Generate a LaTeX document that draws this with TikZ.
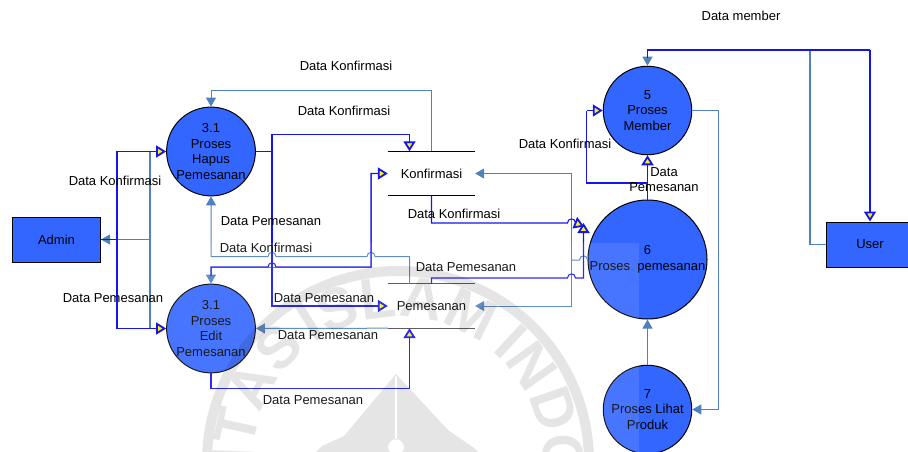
\documentclass[tikz,border=0pt]{standalone}
\usepackage{fontspec}
\setmainfont{Liberation Sans}
\usepackage{xcolor}
\usepackage{tikz}
\usetikzlibrary{positioning, arrows.meta, decorations.text}

\definecolor{fillblue}{HTML}{3366FF}
\definecolor{darkflow}{HTML}{1414F0}
\definecolor{lightflow}{HTML}{4F81BD}

\newcommand{\hopto}[3]{-- (#1,#3) .. controls (#1,#3-5.5) and (#2,#3-5.5) .. (#2,#3)}

\tikzset{
  proc/.style={circle, draw=black, line width=1, fill=fillblue, inner sep=0, minimum size=88.5pt, align=center, font=\fontsize{13}{15.4}\selectfont},
  ext/.style={rectangle, draw=black, line width=1, fill=fillblue, inner sep=0, minimum width=88pt, minimum height=45pt, font=\fontsize{13}{15}\selectfont},
  store/.style={rectangle, inner sep=0, minimum width=87pt, minimum height=44pt, font=\fontsize{13}{15}\selectfont},
  lbl/.style={inner sep=0, align=center, font=\fontsize{13}{15}\selectfont},
  dflow/.style={draw=darkflow, line width=1.05, -{Triangle[length=10pt, width=12pt, fill=yellow, line width=1.8pt]}},
  dline/.style={draw=darkflow, line width=1.05},
  lflow/.style={draw=lightflow, line width=1, -{Triangle[length=9pt, width=10pt, fill=lightflow]}},
  lline/.style={draw=lightflow, line width=1},
  wmtext/.style={decorate, decoration={text along path, text align=center, text={|\fontsize{58}{58}\selectfont\bfseries|#1}}},
}

\begin{document}
\begin{tikzpicture}[x=1pt, y=-1pt, on grid]
\useasboundingbox (0,0) rectangle (908,452);

% nodes %
\node[proc] (hapus) at (211,151.5) {3.1\\Proses\\Hapus\\Pemesanan};
\node[proc, below = 177pt of hapus] (edit) {3.1\\Proses\\Edit\\Pemesanan};
\node[proc] (member) at (647.5,110.5) {5\\Proses\\Member};
\node[proc, minimum size=119pt, below = 149pt of member] (pesan) {6\\Proses\ \ pemesanan};
\node[proc, below = 150pt of pesan] (produk) {7\\Proses Lihat\\Produk};
\node[ext] (admin) at (56.5,239.5) {Admin};
\node[ext] (user) at (870,244.5) {User};
\node[store] (konf) at (431.5,173.5) {Konfirmasi};
\node[store, below = 132.5pt of konf] (pem) {Pemesanan};

% store lines %
\draw[black, line width=0.9] (konf.north west) -- (konf.north east);
\draw[black, line width=0.9] (konf.south west) -- (konf.south east);
\draw[black!70, line width=0.9] (pem.north west) -- (pem.north east);
\draw[black!70, line width=0.9] (pem.south west) -- (pem.south east);

% edges %

%light%
\draw[lline, line width=1.6] (hapus.west) -- (150,151.5) -- (150,328.5) -- (edit.west);
\draw[lflow] (150,239.5) -- (admin.east);
\draw[lflow] (konf.north) -- (431.5,91) -- (211,91) -- (hapus.north);
\draw[lflow] ([xshift=-22pt]pem.north) -- (409.5,256.5) \hopto{375}{367}{256.5} \hopto{276}{268}{256.5} -- (211,256.5) -- (hapus.south);
\draw[lflow] (pem.south west) -- (edit.east);
\draw[lflow] (371,173.5) -- (371,267) -- (211,267) -- (edit.north);
\draw[lflow] (571.5,260) -- (571.5,173.5) -- (konf.east);
\draw[lflow] (571.5,260) -- (571.5,306) -- (pem.east);
\draw[lline] (571.5,260) \hopto{579.5}{587.5}{260} -- (pesan.west);
\draw[lflow] (produk.north) -- (pesan.south);
\draw[lline, line width=1.6] (pesan.north) -- (member.south);
\draw[lflow] (member.east) -- (718.5,110.5) -- (718.5,409.5) -- (produk.east);
\draw[lline, line width=1.6] (user.west) -- (810,244.5) -- (810,50);
\draw[lflow] (870,50) -- (647.5,50) -- (member.north);

%dark%
\draw[dflow] (admin.east) -- (117,239.5) -- (117,151.5) -- (hapus.west);
\draw[dflow] (117,239.5) -- (117,328.5) -- (edit.west);
\draw[dflow] (hapus.east) -- (272,151.5) -- (272,134.5) -- (409.5,134.5) -- ([xshift=-22pt]konf.north);
\draw[dflow] (272,151.5) -- (272,306) -- (pem.west);
\draw[dflow] (211,276) -- (211,267) \hopto{268}{276}{267} -- (371,267) -- (371,173.5) -- (konf.west);
\draw[dflow] (edit.south) -- (211,388.5) -- (409.5,388.5) -- ([xshift=-22pt]pem.south);
\draw[dflow] (konf.south) -- (431.5,223) \hopto{567.5}{575.5}{223} -- (584,226.5);
\draw[dflow] (pem.north) -- (431.5,278) \hopto{567.5}{575.5}{278} -- (583.5,278) -- (583.5,223);
\draw[dflow] (647.5,183) -- (member.south);
\draw[dline] (647.5,200) -- (647.5,183) -- (586.5,183) -- (586.5,110.5);
\draw[dflow] (586.5,110.5) -- (member.west);
\draw[dline] (647.5,58) -- (647.5,50) -- (870,50);
\draw[dflow] (870,50) -- (user.north);

% labels %
\node[lbl] (l1) at (741,15.5) {Data member};
\node[lbl] (l2) at (346,66) {Data Konfirmasi};
\node[lbl] (l3) at (344,110.5) {Data Konfirmasi};
\node[lbl] (l4) at (115,180.5) {Data Konfirmasi};
\node[lbl] (l5) at (565,143.5) {Data Konfirmasi};
\node[lbl] (l6) at (454,213.5) {Data Konfirmasi};
\node[lbl] (l7) at (266,247.5) {Data Konfirmasi};
\node[lbl] (l8) at (271,221.5) {Data Pemesanan};
\node[lbl] (l9) at (466,267.5) {Data Pemesanan};
\node[lbl] (l10) at (324,298.5) {Data Pemesanan};
\node[lbl] (l11) at (113,298.5) {Data Pemesanan};
\node[lbl] (l12) at (328,335.5) {Data Pemesanan};
\node[lbl] (l13) at (313,400) {Data Pemesanan};
\node[lbl] (l14) at (664,180) {Data\\Pemesanan};

% watermark, printed over the drawing %
\fill[white, opacity=0.1] (165,243) rectangle (639,452);
\begin{scope}[opacity=0.1]
\draw[black, line width=10] (398,462) circle[radius=191];
\fill[black, even odd rule] (396,374) -- (448,430) -- (474,448) -- (478,452) -- (316,452) -- (322,446) -- (344,436) -- cycle
  (394.8,376) rectangle (397.2,440) (396,447) circle[radius=8];
\end{scope}
\begin{scope}[x=1pt, y=1pt, opacity=0.1]
\path[wmtext={ISLAM}] (398,-462) ++(130:145pt) arc[start angle=130, end angle=50, radius=145pt];
\path[wmtext={SITAS}] (398,-462) ++(200:145pt) arc[start angle=200, end angle=125, radius=145pt];
\path[wmtext={INDO}] (398,-462) ++(55:145pt) arc[start angle=55, end angle=-12, radius=145pt];
\end{scope}

\end{tikzpicture}
\end{document}
